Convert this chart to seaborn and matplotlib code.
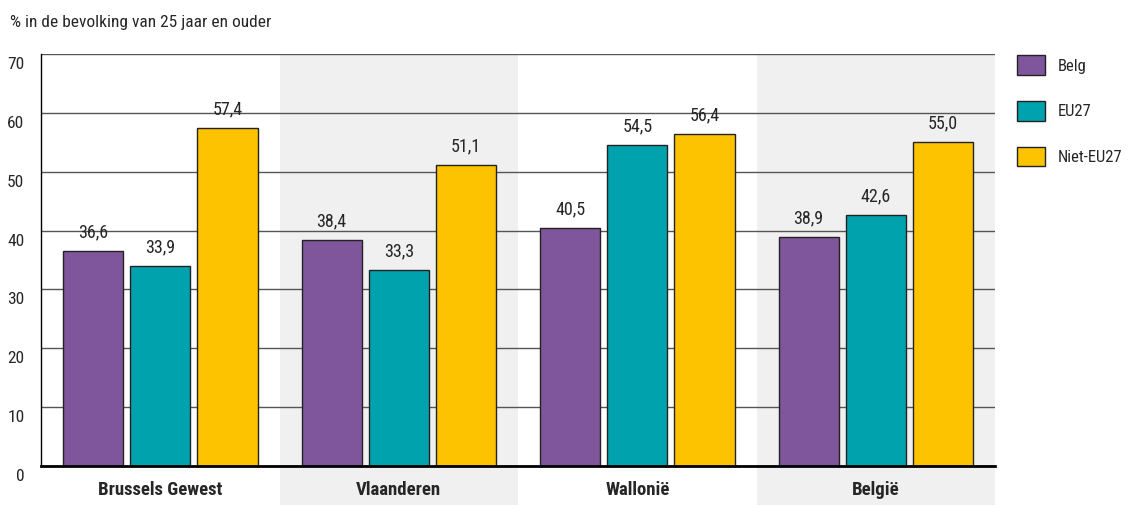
import matplotlib
matplotlib.use("Agg")
import matplotlib.pyplot as plt
import matplotlib.transforms as mtransforms
from matplotlib.patches import Patch, Rectangle
import pandas as pd
import seaborn as sns

# data
regios = ["Brussels Gewest", "Vlaanderen", "Wallonië", "België"]
groepen = ["Belg", "EU27", "Niet-EU27"]
belg = [36.6, 38.4, 40.5, 38.9]
eu27 = [33.9, 33.3, 54.5, 42.6]
niet_eu27 = [57.4, 51.1, 56.4, 55.0]
yticks = [0, 10, 20, 30, 40, 50, 60, 70]
kleuren = ["#7F569B", "#00A3AD", "#FDC300"]

rows = []
for groep, waarden in zip(groepen, [belg, eu27, niet_eu27]):
    for regio, w in zip(regios, waarden):
        rows.append({"regio": regio, "groep": groep, "pct": w})
df = pd.DataFrame(rows)

sns.set_style("white")
plt.rcParams["font.family"] = ["Liberation Sans Narrow", "DejaVu Sans Condensed",
                               "Roboto Condensed", "DejaVu Sans"]

fig = plt.figure(figsize=(11.31, 5.05), dpi=100)
ax = fig.add_axes([0.0363, 0.0772, 0.8435, 0.8158])

# alternating grey band behind Vlaanderen and België, running down past the axis
band_trans = mtransforms.blended_transform_factory(ax.transData, ax.transAxes)
for i in (1, 3):
    ax.add_patch(Rectangle((i - 0.5, -0.1), 1, 1.1, transform=band_trans,
                           facecolor="#F0F0F0", edgecolor="none",
                           clip_on=False, zorder=0))

sns.barplot(data=df, x="regio", y="pct", hue="groep", palette=kleuren,
            width=0.845, gap=0.105, edgecolor="#222222", linewidth=1,
            saturation=1, ax=ax, zorder=3, legend=False)

for container in ax.containers:
    labels = [f"{v:.1f}".replace(".", ",") for v in container.datavalues]
    ax.bar_label(container, labels=labels, padding=7, fontsize=13)

ax.set_xlim(-0.5, 3.5)
ax.set_ylim(0, 70)
ax.set_yticks(yticks)
ax.set_xlabel("")
ax.set_ylabel("")
ax.set_axisbelow(True)
ax.yaxis.grid(True, color="#555555", linewidth=1)
ax.patch.set_alpha(0)

for side in ("top", "right"):
    ax.spines[side].set_visible(False)
ax.spines["left"].set_color("black")
ax.spines["left"].set_linewidth(1)
ax.spines["bottom"].set_color("black")
ax.spines["bottom"].set_linewidth(2)
ax.spines["bottom"].set_zorder(4)

ax.tick_params(axis="y", length=0, pad=12, labelsize=12.5)
ax.tick_params(axis="x", length=0, pad=11, labelsize=13.5)
for lbl in ax.get_xticklabels():
    lbl.set_fontweight("bold")
# y labels sit a bit below their gridlines in the reference
offset = mtransforms.ScaledTranslation(0, -9 / 100, fig.dpi_scale_trans)
for lbl in ax.get_yticklabels():
    lbl.set_transform(lbl.get_transform() + offset)

fig.text(0.009, 0.955, "% in de bevolking van 25 jaar en ouder", fontsize=12.5,
         va="center", ha="left")

handles = [Patch(facecolor=c, edgecolor="#222222", linewidth=1) for c in kleuren]
fig.legend(handles, groepen, loc="upper left", bbox_to_anchor=(0.886, 0.92),
           frameon=False, fontsize=12, handlelength=1.65, handleheight=1.4,
           labelspacing=1.6, handletextpad=0.8)

fig.savefig("out.png", dpi=100)
